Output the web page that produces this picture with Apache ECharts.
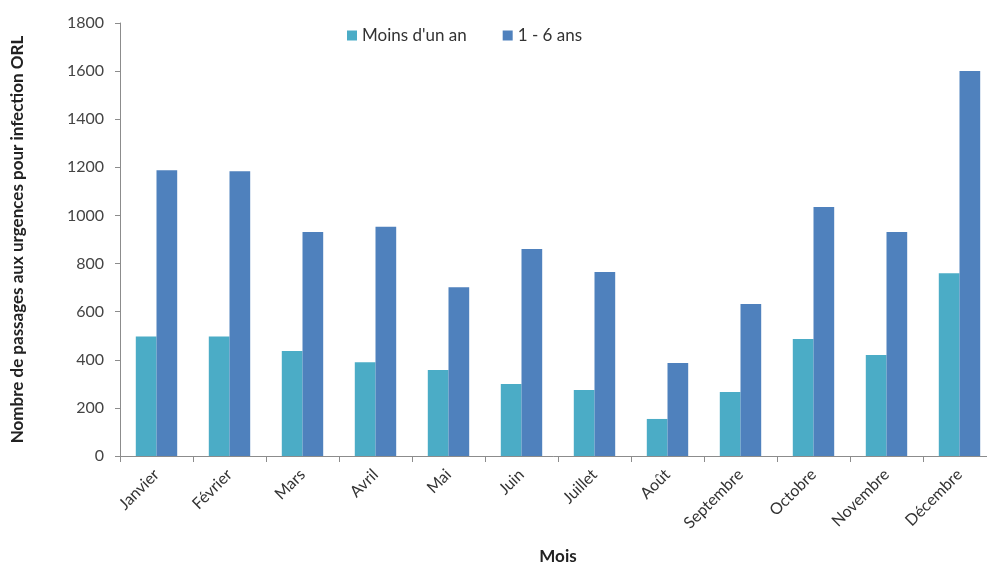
<!DOCTYPE html>
<html>
<head>
<meta charset="utf-8">
<script src="https://cdn.jsdelivr.net/npm/echarts@6/dist/echarts.min.js"></script>
<style>
  html, body { margin: 0; padding: 0; background: #fff; }
  #chart { width: 987px; height: 563px; }
</style>
</head>
<body>
<div id="chart"></div>
<script>
// Monthly ENT-infection emergency visits, by age group
const months = ['Janvier', 'Février', 'Mars', 'Avril', 'Mai', 'Juin', 'Juillet', 'Août', 'Septembre', 'Octobre', 'Novembre', 'Décembre'];
const moinsUnAn = [497, 497, 436, 390, 357, 299, 274, 154, 266, 486, 420, 760];
const unASixAns = [1188, 1184, 931, 953, 702, 860, 765, 387, 632, 1035, 931, 1600];
const yTicks = { min: 0, max: 1800, interval: 200 };

const font = 'Lato, "Open Sans", sans-serif';
const chart = echarts.init(document.getElementById('chart'));
chart.setOption({
  animation: false,
  textStyle: { fontFamily: font },
  grid: { left: 120, right: -9, top: 23, bottom: 107, containLabel: false, outerBoundsMode: 'none' },
  legend: {
    top: 22, left: 342,
    itemWidth: 10, itemHeight: 10, itemGap: 36,
    icon: 'rect',
    textStyle: { fontSize: 17, color: '#333', fontFamily: font },
    data: ['Moins d\'un an', '1 - 6 ans']
  },
  xAxis: {
    type: 'category',
    data: months,
    name: 'Mois',
    nameLocation: 'middle',
    nameGap: 92,
    nameTextStyle: { fontSize: 17, fontWeight: 'bold', color: '#222', fontFamily: font },
    axisLine: { lineStyle: { color: '#8c8c8c' } },
    axisTick: { show: true, alignWithLabel: false, length: 6, lineStyle: { color: '#8c8c8c' } },
    axisLabel: { rotate: 45, fontSize: 16, color: '#333', margin: 16, interval: 0, fontFamily: font }
  },
  yAxis: {
    type: 'value',
    min: yTicks.min, max: yTicks.max, interval: yTicks.interval,
    name: 'Nombre de passages aux urgences pour infection ORL',
    nameLocation: 'middle',
    nameGap: 94,
    nameTextStyle: { fontSize: 17, fontWeight: 'bold', color: '#222', fontFamily: font },
    axisLine: { show: true, lineStyle: { color: '#8c8c8c' } },
    axisTick: { show: true, length: 5, lineStyle: { color: '#8c8c8c' } },
    splitLine: { show: false },
    axisLabel: { fontSize: 16, color: '#444', margin: 16, fontFamily: font, formatter: v => String(v) }
  },
  series: [
    {
      name: 'Moins d\'un an', type: 'bar', data: moinsUnAn,
      itemStyle: { color: '#4BACC6' },
      barWidth: 20.7, barGap: '0%'
    },
    {
      name: '1 - 6 ans', type: 'bar', data: unASixAns,
      itemStyle: { color: '#4F81BD' },
      barWidth: 20.7, barGap: '0%'
    }
  ]
});
</script>
</body>
</html>
